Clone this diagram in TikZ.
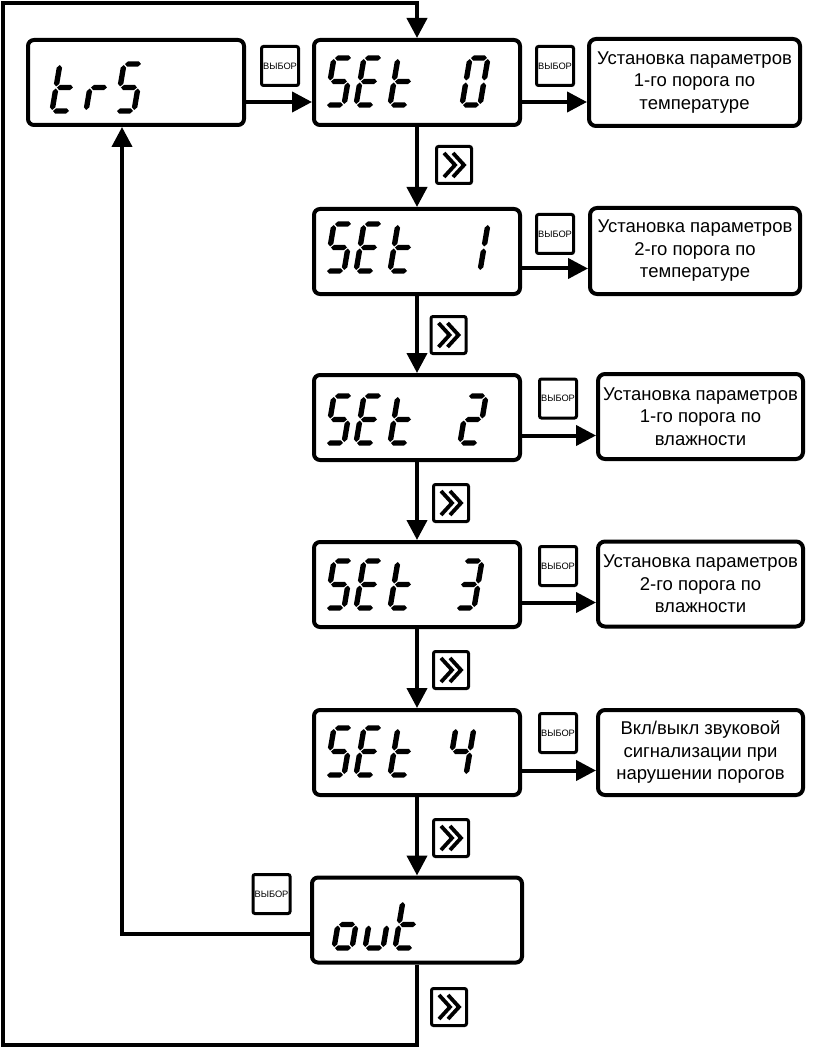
\documentclass[tikz,border=0pt]{standalone}
\usepackage{fontspec}
\setmainfont{Liberation Sans}
\usetikzlibrary{arrows.meta}

\tikzset{
  disp/.style={draw, line width=4pt, rounded corners=6pt, minimum width=206pt, minimum height=85pt, inner sep=0pt},
  info/.style={draw, line width=4pt, rounded corners=7pt, minimum width=205pt, minimum height=85pt, align=center, inner sep=0pt, font=\fontsize{18.5}{22.5}\selectfont},
  btn/.style={draw, line width=3pt, rounded corners=2pt, minimum width=37pt, minimum height=39pt, inner sep=0pt, font=\fontsize{9.3}{10}\selectfont},
  fwd/.style={draw, line width=3pt, rounded corners=2pt, minimum width=35pt, minimum height=37pt, inner sep=0pt},
  conn/.style={line width=4pt, line join=miter},
  arr/.style={conn, -{Triangle[length=20pt,width=20pt]}},
  chev/.style={line width=3.8pt, line join=miter},
  segfill/.style={fill=black},
}

% seven-segment pieces (local coordinates, W=18, H=47, half thickness 2.7)
\newcommand\SgA{\path[segfill] (1pt,47pt)--(3.7pt,49.7pt)--(14.3pt,49.7pt)--(17pt,47pt)--(14.3pt,44.3pt)--(3.7pt,44.3pt)--cycle;}
\newcommand\SgD{\path[segfill] (1pt,0pt)--(3.7pt,2.7pt)--(14.3pt,2.7pt)--(17pt,0pt)--(14.3pt,-2.7pt)--(3.7pt,-2.7pt)--cycle;}
\newcommand\SgG{\path[segfill] (1pt,23.5pt)--(3.7pt,26.2pt)--(14.3pt,26.2pt)--(17pt,23.5pt)--(14.3pt,20.8pt)--(3.7pt,20.8pt)--cycle;}
\newcommand\SgB{\path[segfill] (18pt,46pt)--(20.7pt,43.3pt)--(20.7pt,27.2pt)--(18pt,24.5pt)--(15.3pt,27.2pt)--(15.3pt,43.3pt)--cycle;}
\newcommand\SgC{\path[segfill] (18pt,22.5pt)--(20.7pt,19.8pt)--(20.7pt,3.7pt)--(18pt,1pt)--(15.3pt,3.7pt)--(15.3pt,19.8pt)--cycle;}
\newcommand\SgE{\path[segfill] (0pt,22.5pt)--(2.7pt,19.8pt)--(2.7pt,3.7pt)--(0pt,1pt)--(-2.7pt,3.7pt)--(-2.7pt,19.8pt)--cycle;}
\newcommand\SgF{\path[segfill] (0pt,46pt)--(2.7pt,43.3pt)--(2.7pt,27.2pt)--(0pt,24.5pt)--(-2.7pt,27.2pt)--(-2.7pt,43.3pt)--cycle;}
\newcommand\dig[3]{\begin{scope}[shift={(#1,#2)},xslant=0.17]#3\end{scope}}
\newcommand\SEtword[1]{%
  \dig{326}{#1}{\SgA\SgF\SgG\SgC\SgD}%
  \dig{356}{#1}{\SgA\SgF\SgG\SgE\SgD}%
  \dig{390}{#1}{\SgF\SgE\SgG\SgD}}
\newcommand\chevrons[1]{%
  \draw[chev] ([shift={(-10pt,12pt)}]#1.center) -- ++(11pt,-12pt) -- ++(-11pt,-12pt);
  \draw[chev] ([shift={(-1pt,12pt)}]#1.center) -- ++(11pt,-12pt) -- ++(-11pt,-12pt);}

\begin{document}
\begin{tikzpicture}[x=1pt,y=-1pt]
\useasboundingbox[fill=white] (0,0) rectangle (812,1048);

% displays
\node[disp, minimum width=216pt] (trs) at (136,82.5) {};
\node[disp] (s0) at (417,82.5) {};
\node[disp] (s1) at (417,251.5) {};
\node[disp] (s2) at (417,417.5) {};
\node[disp] (s3) at (417,584.5) {};
\node[disp] (s4) at (417,752.5) {};
\node[disp, minimum width=210pt] (out) at (417,920) {};

% info boxes
\node[info, minimum width=211pt, minimum height=87pt] (i0) at (694.5,82.5) {Установка параметров\\1-го порога по\\температуре};
\node[info, minimum width=210pt, minimum height=86pt] (i1) at (695,251) {Установка параметров\\2-го порога по\\температуре};
\node[info] (i2) at (700.5,416.5) {Установка параметров\\1-го порога по\\влажности};
\node[info] (i3) at (700.5,584) {Установка параметров\\2-го порога по\\влажности};
\node[info] (i4) at (700.5,752.5) {Вкл/выкл звуковой\\сигнализации при\\нарушении порогов};

% select buttons
\node[btn] (b0) at (280,66) {ВЫБОР};
\node[btn] (b1) at (555,66) {ВЫБОР};
\node[btn] (b2) at (555,234) {ВЫБОР};
\node[btn] (b3) at (558,398.5) {ВЫБОР};
\node[btn] (b4) at (558,566) {ВЫБОР};
\node[btn] (b5) at (558,733) {ВЫБОР};
\node[btn] (b6) at (271.5,894) {ВЫБОР};

% forward buttons
\node[fwd] (f0) at (454,165) {};
\node[fwd] (f1) at (448.5,335) {};
\node[fwd] (f2) at (451,503) {};
\node[fwd] (f3) at (451,670) {};
\node[fwd] (f4) at (451,838) {};
\node[fwd] (f5) at (449,1007) {};
\chevrons{f0}\chevrons{f1}\chevrons{f2}\chevrons{f3}\chevrons{f4}\chevrons{f5}

% digits
\dig{52}{111}{\SgF\SgE\SgG\SgD}
\dig{86}{111}{\SgE\SgG}
\dig{116}{111}{\SgA\SgF\SgG\SgC\SgD}

\SEtword{105}  \dig{462}{105}{\SgA\SgB\SgC\SgD\SgE\SgF}
\SEtword{271}  \dig{462}{271}{\SgB\SgC}
\SEtword{443}  \dig{460}{443}{\SgA\SgB\SgG\SgE\SgD}
\SEtword{608}  \dig{456}{608}{\SgA\SgB\SgG\SgC\SgD}
\SEtword{775}  \dig{448}{775}{\SgF\SgG\SgB\SgC}

\dig{334}{948}{\SgG\SgC\SgD\SgE}
\dig{365}{948}{\SgC\SgD\SgE}
\dig{395}{948}{\SgF\SgE\SgG\SgD}

% connectors
\draw[arr] ([yshift=-19.5pt]trs.east) -- ([yshift=-19.5pt]trs.east -| s0.west);
\draw[arr] ([yshift=-19.5pt]s0.east) -- ([yshift=-19.5pt]s0.east -| i0.west);
\draw[arr] ([yshift=-17pt]s1.east) -- ([yshift=-17pt]s1.east -| i1.west);
\draw[arr] ([yshift=-18pt]s2.east) -- ([yshift=-18pt]s2.east -| i2.west);
\draw[arr] ([yshift=-18pt]s3.east) -- ([yshift=-18pt]s3.east -| i3.west);
\draw[arr] ([yshift=-18pt]s4.east) -- ([yshift=-18pt]s4.east -| i4.west);

\draw[arr] (s0.south) -- (s1.north);
\draw[arr] (s1.south) -- (s2.north);
\draw[arr] (s2.south) -- (s3.north);
\draw[arr] (s3.south) -- (s4.north);
\draw[arr] (s4.south) -- (out.north);

\draw[arr] ([yshift=-14pt]out.west) -| ([xshift=-14pt]trs.south);

\coordinate (bl) at (3,1045);
\coordinate (tl) at (3,3);
\draw[arr] (out.south) |- (bl) -- (tl) -| (s0.north);
\end{tikzpicture}
\end{document}
